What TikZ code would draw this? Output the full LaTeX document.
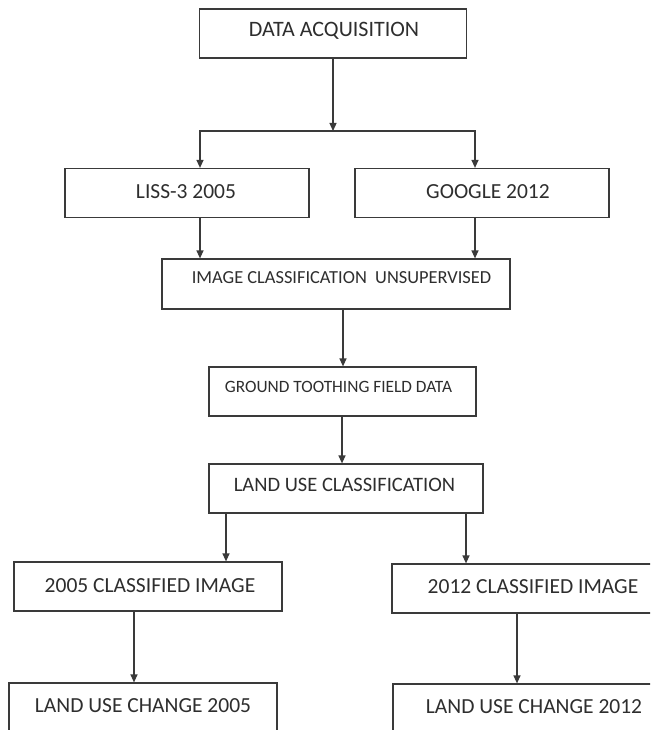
\documentclass[tikz,border=0pt]{standalone}
\usepackage{fontspec}
\setmainfont{Carlito}
\usetikzlibrary{arrows.meta}
\definecolor{ln}{HTML}{3A3A3A}
\definecolor{tx}{HTML}{2E2E2E}
\tikzset{
  boxnode/.style={draw=ln, line width=1.2pt, minimum width=#1, inner sep=0pt, minimum height=49pt},
  txt/.style={inner sep=0pt, anchor=base, text=tx, font=\fontsize{#1}{#1}\selectfont},
  arr/.style={draw=ln, line width=1.2pt, -{Triangle[length=8pt,width=7pt]}}
}
\begin{document}
\begin{tikzpicture}[x=1pt,y=-1pt]
\useasboundingbox (0,0) rectangle (650,730);
\clip (0,0) rectangle (650,730);
\fill[white] (0,0) rectangle (650,730);
% boxes
\node[boxnode=267pt] (acq)  at (333,33.5) {};
\node[boxnode=244pt] (liss) at (187,193) {};
\node[boxnode=254pt] (goog) at (482,193) {};
\node[boxnode=348pt, minimum height=50pt] (icu) at (336,284) {};
\node[boxnode=267pt] (gtf)  at (342.5,391.5) {};
\node[boxnode=274pt] (luc)  at (346,488.5) {};
\node[boxnode=268pt] (c05)  at (148,586.5) {};
\node[boxnode=268pt] (c12)  at (526,588.5) {};
\node[boxnode=268pt] (ch05) at (143,707.5) {};
\node[boxnode=268pt] (ch12) at (527,708.5) {};
% texts (base line positions)
\node[txt=22] (acqT) at (334,37) {DATA ACQUISITION};
\node[txt=21.5] (lissT) at (186,198) {LISS-3 2005};
\node[txt=21.5] (googT) at (488,198) {GOOGLE 2012};
\node[txt=18.4] (icuT) at (341.5,283) {IMAGE CLASSIFICATION\ \ UNSUPERVISED};
\node[txt=17.3] (gtfT) at (338.5,392.5) {GROUND TOOTHING FIELD DATA};
\node[txt=20.5] (lucT) at (344.5,491.5) {LAND USE CLASSIFICATION};
\node[txt=21.5] (c05T) at (150,592) {2005 CLASSIFIED IMAGE};
\node[txt=21.5] (c12T) at (533,593) {2012 CLASSIFIED IMAGE};
\node[txt=21.5] (ch05T) at (143,712) {LAND USE CHANGE 2005};
\node[txt=21.5] (ch12T) at (534,713) {LAND USE CHANGE 2012};
% connectors
\coordinate (split) at (333,131);
\draw[arr] (acq.south) -- (split);
\draw[arr] (split) -| ([xshift=13pt]liss.north);
\draw[arr] (split) -| ([xshift=-7pt]goog.north);
\draw[arr] ([xshift=13pt]liss.south) -- ([xshift=13pt]liss.south |- icu.north);
\draw[arr] ([xshift=-7pt]goog.south) -- ([xshift=-7pt]goog.south |- icu.north);
\draw[arr] ([xshift=7pt]icu.south) -- ([xshift=7pt]icu.south |- gtf.north);
\draw[arr] ([xshift=-0.5pt]gtf.south) -- ([xshift=-0.5pt]gtf.south |- luc.north);
\draw[arr] ([xshift=-120pt]luc.south) -- ([xshift=-120pt]luc.south |- c05.north);
\draw[arr] ([xshift=120pt]luc.south) -- ([xshift=120pt]luc.south |- c12.north);
\draw[arr] ([xshift=-14pt]c05.south) -- ([xshift=-14pt]c05.south |- ch05.north);
\draw[arr] ([xshift=-9pt]c12.south) -- ([xshift=-9pt]c12.south |- ch12.north);
\end{tikzpicture}
\end{document}
